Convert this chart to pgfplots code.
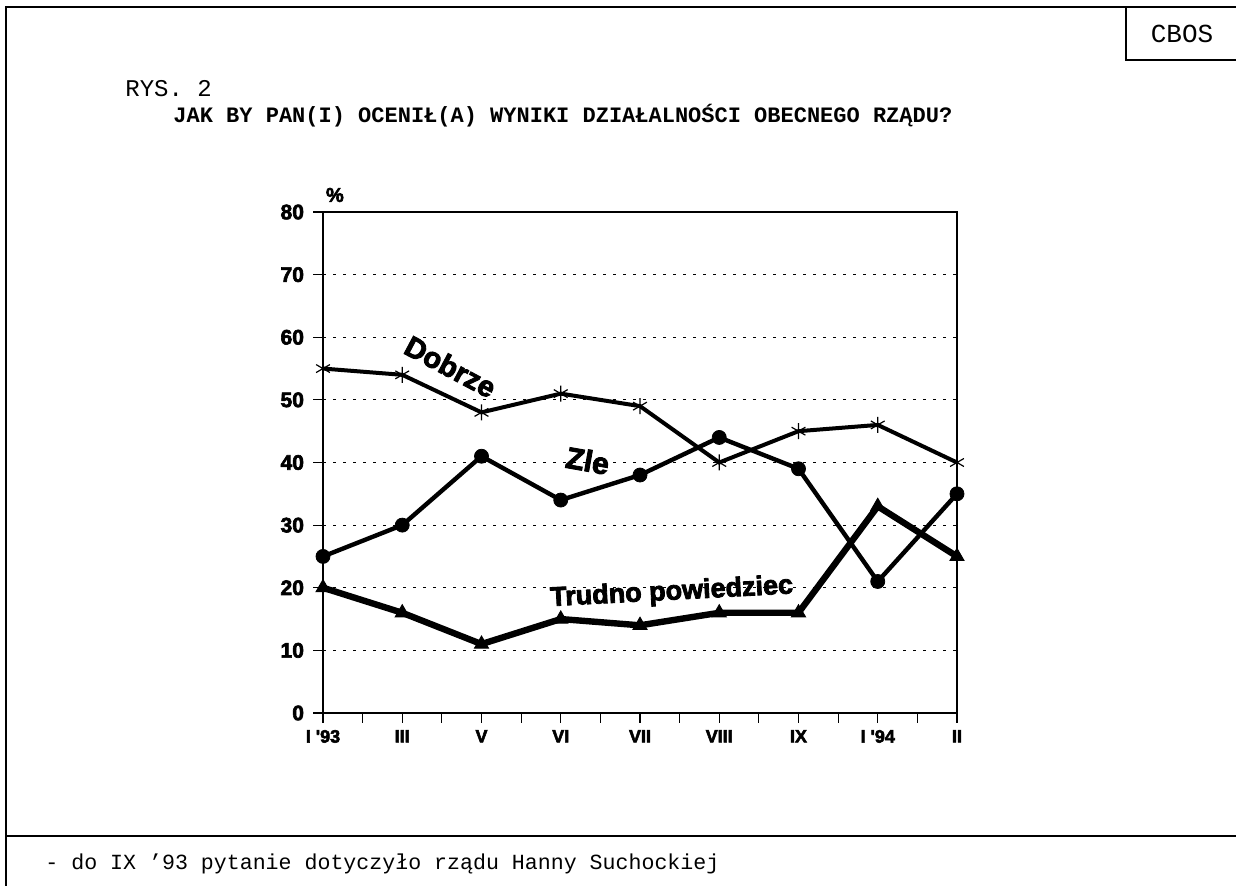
\documentclass[border=0pt]{standalone}
\usepackage{fontspec}
\usepackage{pgfplots}
\pgfplotsset{compat=1.18}
\setmainfont{Liberation Mono}
\newfontface\heavy{Liberation Sans Bold}[FakeBold=3]
\begin{document}
\begin{tikzpicture}
\useasboundingbox (0pt,0pt) rectangle (618pt,443pt);
% frame
\draw[line width=0.75pt] (3pt,0pt) -- (3pt,439.5pt) -- (618pt,439.5pt);
\draw[line width=0.75pt] (563pt,439.5pt) -- (563pt,413pt) -- (618pt,413pt);
\draw[line width=0.75pt] (3pt,25pt) -- (618pt,25pt);
% texts
\node[anchor=base, inner sep=0pt, font=\fontsize{13}{15}\selectfont] at (591pt,421.5pt) {CBOS};
\node[anchor=base west, inner sep=0pt, font=\fontsize{12}{14}\selectfont] at (62.5pt,394.5pt) {RYS. 2};
\node[anchor=base west, inner sep=0pt, font=\fontsize{11}{13}\selectfont\bfseries] at (86.5pt,381.5pt) {JAK BY PAN(I) OCENIŁ(A) WYNIKI DZIAŁALNOŚCI OBECNEGO RZĄDU?};
\node[anchor=base west, inner sep=0pt, font=\fontsize{10.8}{13}\selectfont] at (22.5pt,8pt) {- do IX '93 pytanie dotyczyło rządu Hanny Suchockiej};
\begin{axis}[
  at={(161.5pt,86.5pt)}, anchor=south west,
  scale only axis, width=317pt, height=250.5pt,
  xmin=0, xmax=8, ymin=0, ymax=80,
  xtick={0,...,8},
  xticklabels={I '93, III, V, VI, VII, VIII, IX, I '94, II},
  minor xtick={0.5,1.5,...,7.5},
  ytick={0,10,...,80},
  tick align=outside, major tick length=5pt, minor tick length=5pt,
  xtick pos=bottom, ytick pos=left,
  axis line style={line width=0.75pt},
  every tick/.style={black, line width=0.6pt},
  ymajorgrids,
  grid style={black, line width=0.5pt, dash pattern=on 1.5pt off 3.5pt},
  /pgf/number format/assume math mode=true,
  yticklabel style={font=\heavy\fontsize{10.5}{12}\selectfont, xshift=-1pt},
  xticklabel style={font=\heavy\fontsize{9}{10}\selectfont},
  clip=false,
]
\addplot[black, line width=2pt, mark=asterisk, mark size=4pt,
  mark options={line width=0.6pt, solid}]
  coordinates {(0,55) (1,54) (2,48) (3,51) (4,49) (5,40) (6,45) (7,46) (8,40)};
\addplot[black, line width=2.2pt, mark=*, mark size=3.5pt, mark options={solid, line width=0.4pt}]
  coordinates {(0,25) (1,30) (2,41) (3,34) (4,38) (5,44) (6,39) (7,21) (8,35)};
\addplot[black, line width=3.2pt, mark=triangle*, mark size=4pt, mark options={solid, line width=0.5pt}]
  coordinates {(0,20) (1,16) (2,11) (3,15) (4,14) (5,16) (6,16) (7,33) (8,25)};
\node[font=\heavy\fontsize{10}{11}\selectfont, yshift=8.5pt] at (axis cs:0.15,80) {\%};
\node[rotate=-28, font=\heavy\fontsize{14.5}{16}\selectfont] at (axis cs:1.61,55.3) {Dobrze};
\node[rotate=-10, font=\heavy\fontsize{15}{17}\selectfont] at (axis cs:3.34,40.3) {Zle};
\node[rotate=3, font=\heavy\fontsize{13.5}{15}\selectfont] at (axis cs:4.40,19.2) {Trudno powiedziec};
\end{axis}
\end{tikzpicture}
\end{document}
